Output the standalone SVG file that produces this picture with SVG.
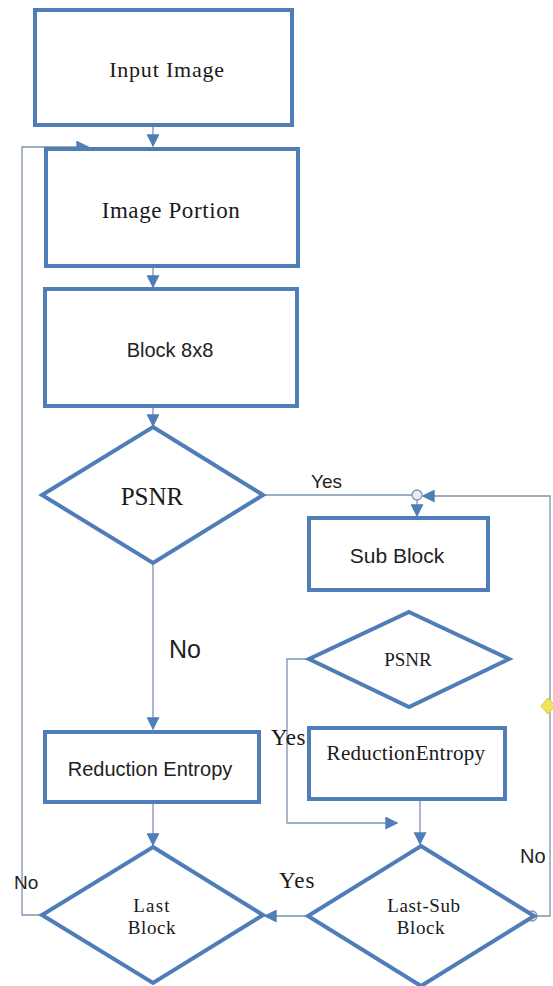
<svg xmlns="http://www.w3.org/2000/svg" width="553" height="986" viewBox="0 0 553 986">
<style>
.box{fill:#fff;stroke:#4f7db8;stroke-width:4}
.ln{fill:none;stroke:#7d93ad;stroke-width:1.3}
.serif{font-family:"Liberation Serif","Times New Roman",serif;fill:#1a1a1a;text-anchor:middle}
.sans{font-family:"Liberation Sans",Arial,sans-serif;fill:#222;text-anchor:middle}
.lbl{font-family:"Liberation Sans",Arial,sans-serif;fill:#222}
.lbls{font-family:"Liberation Serif","Times New Roman",serif;fill:#1a1a1a}
</style>
<defs>
<marker id="ah" viewBox="0 0 10 10" refX="9" refY="5" markerWidth="13" markerHeight="13" markerUnits="userSpaceOnUse" orient="auto">
<path d="M0,0 L10,5 L0,10 z" fill="#4f7db8"/>
</marker>
</defs>
<rect width="553" height="986" fill="#fff"/>
<g id="connectors">
<line class="ln" x1="153" y1="127" x2="153" y2="146" marker-end="url(#ah)"/>
<line class="ln" x1="153" y1="268" x2="153" y2="287" marker-end="url(#ah)"/>
<line class="ln" x1="153" y1="408" x2="153" y2="426" marker-end="url(#ah)"/>
<line class="ln" x1="153" y1="564" x2="153" y2="729" marker-end="url(#ah)"/>
<line class="ln" x1="153" y1="804" x2="153" y2="845" marker-end="url(#ah)"/>
<polyline class="ln" points="42,915 22,915 22,147 88,147" marker-end="url(#ah)"/>
<line class="ln" x1="263" y1="495" x2="412" y2="495"/>
<line class="ln" x1="417" y1="500" x2="417" y2="516" marker-end="url(#ah)"/>
<polyline class="ln" points="534,916 550,916 550,496 423,496" marker-end="url(#ah)"/>
<polyline class="ln" points="309,659 287,659 287,823 397,823" marker-end="url(#ah)"/>
<line class="ln" x1="420" y1="800" x2="420" y2="844" marker-end="url(#ah)"/>
<line class="ln" x1="308" y1="916" x2="265" y2="916" marker-end="url(#ah)"/>
<circle cx="417" cy="495" r="5" fill="#e8eef5" stroke="#7d93ad" stroke-width="1.3"/>
<circle cx="532" cy="916" r="5" fill="#e8eef5" stroke="#7d93ad" stroke-width="1.3"/>
<polygon points="548,698 555,706 548,714 541,706" fill="#f2e45a" stroke="#d9c93a" stroke-width="1"/>
<text class="lbl" x="311" y="488" font-size="19">Yes</text>
<text class="lbl" x="169" y="658" font-size="25">No</text>
<text class="lbls" x="271" y="745" font-size="23" letter-spacing="0.5">Yes</text>
<text class="lbl" x="14" y="889" font-size="19">No</text>
<text class="lbls" x="279" y="888" font-size="23" letter-spacing="1">Yes</text>
<text class="lbl" x="520" y="863" font-size="20">No</text>
</g>
<g id="input-image">
<rect class="box" x="35" y="10" width="257" height="115"/>
<text class="serif" x="167" y="77" font-size="22" letter-spacing="0.8">Input Image</text>
</g>
<g id="image-portion">
<rect class="box" x="46" y="149" width="252" height="117"/>
<text class="serif" x="171" y="218" font-size="23" letter-spacing="0.6">Image Portion</text>
</g>
<g id="block-8x8">
<rect class="box" x="45" y="289" width="252" height="117"/>
<text class="sans" x="170" y="357" font-size="20">Block 8x8</text>
</g>
<g id="psnr-1">
<polygon class="box" points="153,427 263,495 153,563 42,495"/>
<text class="serif" x="152" y="505" font-size="25">PSNR</text>
</g>
<g id="reduction-entropy-1">
<rect class="box" x="45" y="732" width="214" height="70"/>
<text class="sans" x="150" y="776" font-size="20">Reduction Entropy</text>
</g>
<g id="last-block">
<polygon class="box" points="153,847 263,915 153,983 42,915"/>
<text class="serif" x="152" y="912" font-size="19" letter-spacing="1.2">Last</text>
<text class="serif" x="152" y="934" font-size="19" letter-spacing="0.6">Block</text>
</g>
<g id="sub-block">
<rect class="box" x="309" y="518" width="179" height="72"/>
<text class="sans" x="397" y="563" font-size="21">Sub Block</text>
</g>
<g id="psnr-2">
<polygon class="box" points="409,612 509,659 409,707 309,659"/>
<text class="serif" x="408" y="666" font-size="19">PSNR</text>
</g>
<g id="reduction-entropy-2">
<rect class="box" x="309" y="728" width="196" height="71"/>
<text class="serif" x="406" y="760" font-size="21" letter-spacing="0.3">ReductionEntropy</text>
</g>
<g id="last-sub-block">
<polygon class="box" points="421,846 534,916 421,986 308,916"/>
<text class="serif" x="424" y="912" font-size="19" letter-spacing="0.6">Last-Sub</text>
<text class="serif" x="421" y="934" font-size="19" letter-spacing="0.6">Block</text>
</g>
</svg>
